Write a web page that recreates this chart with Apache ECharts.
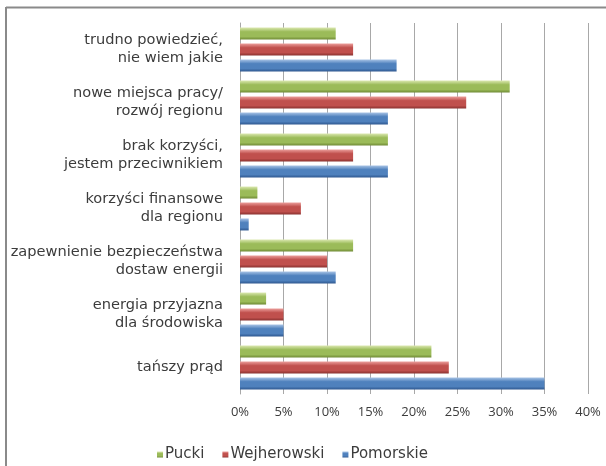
<!DOCTYPE html>
<html>
<head>
<meta charset="utf-8">
<script src="https://cdn.jsdelivr.net/npm/echarts@6/dist/echarts.min.js"></script>
<style>
html,body{margin:0;padding:0;background:#fff;overflow:hidden;}
#c{width:606px;height:466px;}
</style>
</head>
<body>
<div id="c"></div>
<script>
// categories listed bottom -> top (ECharts category y-axis order)
var categories = [
  'tańszy prąd',
  'energia przyjazna\ndla środowiska',
  'zapewnienie bezpieczeństwa\ndostaw energii',
  'korzyści finansowe\ndla regionu',
  'brak korzyści,\njestem przeciwnikiem',
  'nowe miejsca pracy/\nrozwój regionu',
  'trudno powiedzieć,\nnie wiem jakie'
];
var seriesNames = ['Pucki', 'Wejherowski', 'Pomorskie'];
var pucki       = [22, 3, 13, 2, 17, 31, 11];
var wejherowski = [24, 5, 10, 7, 13, 26, 13];
var pomorskie   = [35, 5, 11, 1, 17, 17, 18];
var xTicks = [0, 5, 10, 15, 20, 25, 30, 35, 40];

function grad(light, mid, dark) {
  return new echarts.graphic.LinearGradient(0, 0, 0, 1, [
    {offset: 0, color: light},
    {offset: 0.35, color: mid},
    {offset: 0.75, color: mid},
    {offset: 1, color: dark}
  ]);
}
var colors = [
  grad('#dbe8b0', '#9bbb59', '#6f8a35'),
  grad('#ec9f9c', '#c0504d', '#8a3230'),
  grad('#a9c4e6', '#4f81bd', '#2f5890')
];
var plain = ['#9bbb59', '#c0504d', '#4f81bd'];
var values = [pucki, wejherowski, pomorskie];

var chart = echarts.init(document.getElementById('c'), null, {renderer: 'canvas'});
var series = seriesNames.map(function (n, i) {
  return {
    name: n,
    type: 'bar',
    data: values[i],
    barWidth: 12,
    barGap: '33%',
    itemStyle: {color: colors[i]},
    emphasis: {disabled: true}
  };
});
chart.setOption({
  animation: false,
  color: plain,
  textStyle: {fontFamily: 'DejaVu Sans'},
  graphic: [{
    type: 'line',
    shape: {x1: 6, y1: 7.5, x2: 606, y2: 7.5},
    style: {stroke: '#8a8a8a', lineWidth: 2},
    silent: true
  }, {
    type: 'line',
    shape: {x1: 6, y1: 7, x2: 6, y2: 466},
    style: {stroke: '#8a8a8a', lineWidth: 2},
    silent: true
  }],
  grid: {left: 240, right: 18, top: 23, bottom: 72},
  legend: {
    data: seriesNames,
    left: 152, top: 442,
    itemWidth: 6, itemHeight: 6, itemGap: 18,
    icon: 'rect',
    textStyle: {fontFamily: 'DejaVu Sans', fontSize: 15, color: '#3c3c3c', padding: [0, 0, 0, -3]}
  },
  xAxis: {
    type: 'value',
    min: 0, max: 40, interval: 5,
    axisLine: {show: false},
    axisTick: {show: false},
    splitLine: {show: true, lineStyle: {color: '#a8a8a8', width: 1}},
    axisLabel: {
      fontFamily: 'Open Sans',
      fontSize: 13, color: '#3c3c3c', margin: 12,
      formatter: function (v) { return v + '%'; }
    }
  },
  yAxis: {
    type: 'category',
    data: categories,
    axisLine: {show: true, lineStyle: {color: '#a8a8a8'}},
    axisTick: {show: false},
    axisLabel: {
      fontFamily: 'DejaVu Sans',
      fontSize: 14.6, color: '#3c3c3c', lineHeight: 18, margin: 17, align: 'right'
    }
  },
  series: series
});
</script>
</body>
</html>
